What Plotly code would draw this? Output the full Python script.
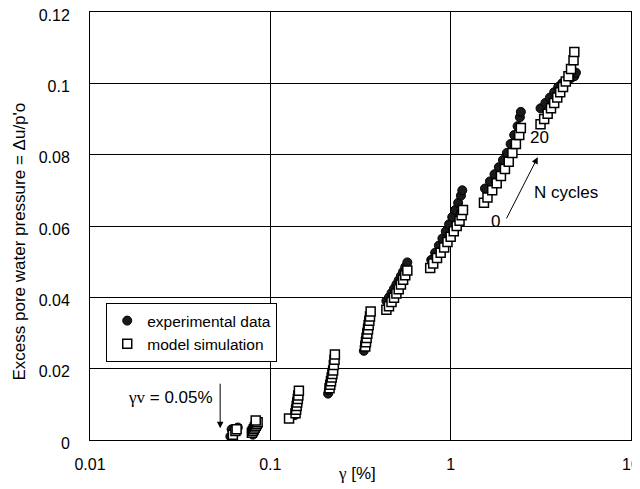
import math
import plotly.graph_objects as go

# ---- data ----
exp_gamma = [
    0.060, 0.061, 0.062, 0.063, 0.064, 0.065, 0.066,
    0.080, 0.081, 0.083, 0.085,
    0.137, 0.138, 0.139, 0.140, 0.141, 0.142,
    0.209, 0.211, 0.213, 0.215, 0.217, 0.219, 0.221, 0.223,
    0.330, 0.333, 0.336, 0.339, 0.342, 0.345, 0.348, 0.351,
    0.440, 0.455, 0.470, 0.485, 0.500, 0.515, 0.530, 0.545, 0.560, 0.575,
    0.78, 0.82, 0.86, 0.90, 0.94, 0.98, 1.02, 1.06, 1.10, 1.14, 1.16,
    1.55, 1.65, 1.75, 1.85, 1.95, 2.05, 2.15, 2.25, 2.35, 2.42, 2.45,
    3.15, 3.35, 3.55, 3.75, 3.95, 4.15, 4.40, 4.65, 4.85, 4.95,
]
exp_du = [
    0.0010, 0.0030, 0.0015, 0.0020, 0.0025, 0.0030, 0.0035,
    0.0015, 0.0020, 0.0030, 0.0040,
    0.0070, 0.0080, 0.0090, 0.0100, 0.0110, 0.0120,
    0.0130, 0.0140, 0.0150, 0.0160, 0.0170, 0.0180, 0.0190, 0.0200,
    0.0250, 0.0262, 0.0274, 0.0286, 0.0298, 0.0310, 0.0322, 0.0334,
    0.0390, 0.0400, 0.0412, 0.0424, 0.0436, 0.0448, 0.0460, 0.0472, 0.0485, 0.0498,
    0.0505, 0.0525, 0.0545, 0.0565, 0.0585, 0.0605, 0.0625, 0.0645, 0.0665, 0.0685, 0.0700,
    0.0705, 0.0725, 0.0745, 0.0765, 0.0785, 0.0805, 0.0830, 0.0855, 0.0880, 0.0905, 0.0920,
    0.0930, 0.0945, 0.0960, 0.0975, 0.0990, 0.1000, 0.1010, 0.1015, 0.1020, 0.1030,
]

sim_gamma = [
    0.062, 0.064, 0.065,
    0.079, 0.080, 0.081, 0.082, 0.083, 0.084, 0.085, 0.083,
    0.127, 0.138, 0.139, 0.140, 0.141, 0.142, 0.143, 0.144,
    0.213, 0.215, 0.217, 0.219, 0.221, 0.223, 0.225, 0.227, 0.228,
    0.336, 0.339, 0.342, 0.345, 0.348, 0.351, 0.354, 0.357, 0.360,
    0.440, 0.455, 0.470, 0.485, 0.500, 0.515, 0.530, 0.545, 0.560, 0.575,
    0.77, 0.80, 0.84, 0.88, 0.92, 0.96, 1.00, 1.04, 1.08, 1.12, 1.15, 1.17,
    1.53, 1.60, 1.70, 1.80, 1.90, 2.00, 2.10, 2.20, 2.30, 2.40, 2.45,
    3.15, 3.30, 3.45, 3.60, 3.75, 3.90, 4.05, 4.20, 4.35, 4.50, 4.65, 4.80, 4.85,
]
sim_du = [
    0.0015, 0.0025, 0.0030,
    0.0020, 0.0025, 0.0030, 0.0035, 0.0040, 0.0045, 0.0050, 0.0055,
    0.0060, 0.0075, 0.0085, 0.0095, 0.0105, 0.0115, 0.0125, 0.0138,
    0.0145, 0.0155, 0.0165, 0.0175, 0.0185, 0.0195, 0.0210, 0.0225, 0.0240,
    0.0262, 0.0274, 0.0286, 0.0298, 0.0310, 0.0322, 0.0334, 0.0346, 0.0360,
    0.0365, 0.0375, 0.0387, 0.0399, 0.0411, 0.0423, 0.0436, 0.0449, 0.0462, 0.0475,
    0.0482, 0.0495, 0.0510, 0.0525, 0.0540, 0.0555, 0.0570, 0.0585, 0.0600, 0.0615, 0.0630, 0.0645,
    0.0665, 0.0680, 0.0700, 0.0720, 0.0740, 0.0760, 0.0780, 0.0805, 0.0830, 0.0855, 0.0875,
    0.0885, 0.0900, 0.0915, 0.0930, 0.0945, 0.0960, 0.0975, 0.0990, 0.1005, 0.1020, 0.1040, 0.1065, 0.1088,
]

x_tick_vals = [0.01, 0.1, 1, 10]
x_tick_text = ["0.01", "0.1", "1", "10"]
y_tick_vals = [0, 0.02, 0.04, 0.06, 0.08, 0.1, 0.12]
y_tick_text = ["0", "0.02", "0.04", "0.06", "0.08", "0.1", "0.12"]

FONT = "Liberation Sans, Arial, sans-serif"

fig = go.Figure()
fig.add_trace(go.Scatter(
    x=exp_gamma, y=exp_du, mode="markers", name="experimental data",
    marker=dict(symbol="circle", size=9, color="#1a1a1a",
                line=dict(color="black", width=1)),
))
fig.add_trace(go.Scatter(
    x=sim_gamma, y=sim_du, mode="markers", name="model simulation",
    marker=dict(symbol="square", size=9, color="white",
                line=dict(color="black", width=1.5)),
))

axis_common = dict(
    showline=True, linecolor="black", linewidth=1, mirror=True,
    showgrid=True, gridcolor="black", gridwidth=1, zeroline=False,
    ticks="outside", tickcolor="rgba(0,0,0,0)",
    tickfont=dict(family=FONT, size=16, color="black"),
    automargin=False, ticklabeloverflow="allow",
)

fig.update_xaxes(type="log", range=[-2, 1], tickvals=x_tick_vals,
                 ticktext=x_tick_text, ticklen=10, **axis_common)
fig.update_yaxes(range=[0, 0.12], tickvals=y_tick_vals,
                 ticktext=y_tick_text, ticklen=16, ticklabelshift=3,
                 **axis_common)

# annotation positions (log10 for x on log axis)
gv_arrow_x = math.log10(0.0527)
gv_text_x = math.log10(0.0278)
n_tail = (math.log10(2.02), 0.0617)
n_head = (math.log10(3.04), 0.0793)

C = dict(xanchor="center", yanchor="middle")
annotations = [
    dict(x=0.494, y=-0.078, xref="paper", yref="paper", showarrow=False,
         text="<span style='font-family:Liberation Serif'>γ</span> [%]",
         font=dict(family=FONT, size=17, color="black"), **C),
    dict(x=-0.13, y=0.463, xref="paper", yref="paper", showarrow=False,
         textangle=-90, text="Excess pore water pressure = Δu/p'o",
         font=dict(family=FONT, size=17, color="black"), **C),
    dict(x=gv_arrow_x, y=0.0033, ax=gv_arrow_x, ay=0.0162, axref="x", ayref="y",
         xref="x", yref="y", showarrow=True, arrowhead=2, arrowsize=1.3,
         arrowwidth=1, arrowcolor="black", text=""),
    dict(x=gv_text_x, y=0.0118, xref="x", yref="y", showarrow=False,
         text="<span style='font-family:Liberation Serif'>γv</span> = 0.05%",
         font=dict(family=FONT, size=17, color="black"), **C),
    dict(x=n_head[0], y=n_head[1], ax=n_tail[0], ay=n_tail[1], axref="x", ayref="y",
         xref="x", yref="y", showarrow=True, arrowhead=2, arrowsize=1.3,
         arrowwidth=1, arrowcolor="black", text=""),
    dict(x=math.log10(1.78), y=0.0612, xref="x", yref="y", showarrow=False,
         text="0", font=dict(family=FONT, size=17, color="black"), **C),
    dict(x=math.log10(3.1), y=0.0848, xref="x", yref="y", showarrow=False,
         text="20", font=dict(family=FONT, size=17, color="black"), **C),
    dict(x=math.log10(4.35), y=0.0693, xref="x", yref="y", showarrow=False,
         text="N cycles", font=dict(family=FONT, size=17, color="black"), **C),
]

# the page body adds an 8 px offset, so the margins compensate for it
fig.update_layout(
    width=640, height=489,
    margin=dict(l=82, r=17, t=4, b=57, autoexpand=False),
    paper_bgcolor="white", plot_bgcolor="white",
    font=dict(family=FONT, color="black"),
    showlegend=True,
    legend=dict(x=0.03, y=0.32, xanchor="left", yanchor="top",
                bgcolor="white", bordercolor="black", borderwidth=1,
                font=dict(family=FONT, size=15.5, color="black"),
                itemwidth=30, tracegroupgap=0),
    annotations=annotations,
)

fig.write_html("out.html")
